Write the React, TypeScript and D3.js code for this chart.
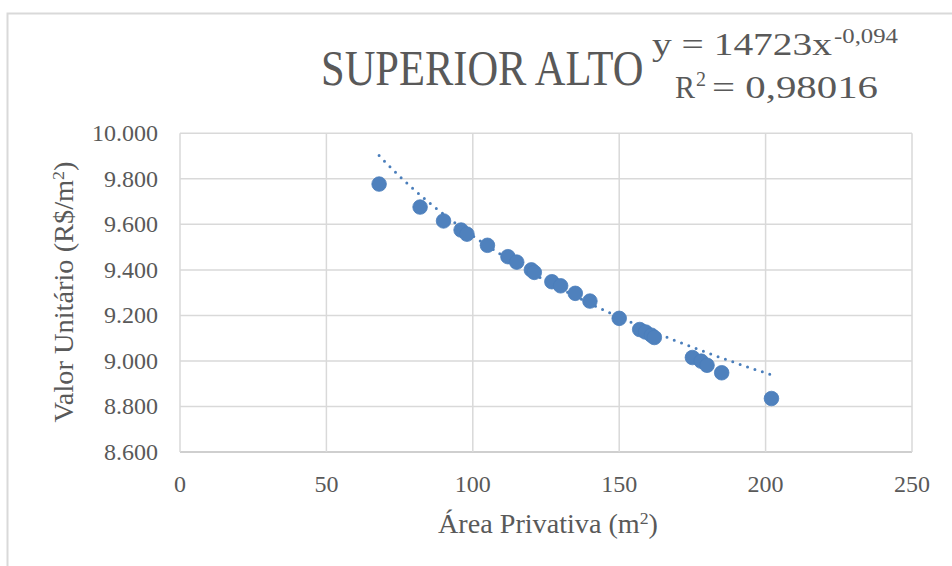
import { useEffect, useRef } from 'react';
import * as d3 from 'd3';

// Área privativa (m²) e valor unitário (R$/m²) das amostras
const areas = [68, 82, 90, 96, 98, 105, 112, 115, 120, 121, 127, 130, 135, 140, 150, 157, 159, 161, 162, 175, 178, 180, 185, 202];
const valores = [9777, 9676, 9615, 9575, 9557, 9508, 9458, 9434, 9400, 9389, 9348, 9330, 9297, 9263, 9187, 9138, 9127, 9113, 9103, 9015, 8999, 8981, 8948, 8835];

const xTicks = [0, 50, 100, 150, 200, 250];
const yTicks = [8600, 8800, 9000, 9200, 9400, 9600, 9800, 10000];

// Linha de tendência (potência) exibida no gráfico
const trendCoef = 14723;
const trendExp = -0.094;

const FONT = '"Liberation Serif", "DejaVu Serif", serif';
const TEXT = '#595959';

export default function App() {
  const svgRef = useRef<SVGSVGElement>(null);

  useEffect(() => {
    document.body.style.margin = '0';
    const W = 952, H = 566;
    const svg = d3.select(svgRef.current);
    svg.selectAll('*').remove();

    // chart frame
    svg.append('path')
      .attr('d', `M7.5,${H} L7.5,13.5 L${W},13.5`)
      .attr('fill', 'none')
      .attr('stroke', '#d9d9d9')
      .attr('stroke-width', 2);

    const x = d3.scaleLinear().domain([0, 250]).range([180, 912]);
    const y = d3.scaleLinear().domain([8600, 10000]).range([452, 133.3]);

    // gridlines
    svg.append('g').selectAll('line')
      .data(yTicks)
      .join('line')
      .attr('x1', x(0)).attr('x2', x(250))
      .attr('y1', d => y(d)).attr('y2', d => y(d))
      .attr('stroke', d => d === 8600 ? '#bfbfbf' : '#d9d9d9')
      .attr('stroke-width', 1.5);

    svg.append('g').selectAll('line')
      .data(xTicks)
      .join('line')
      .attr('x1', d => x(d)).attr('x2', d => x(d))
      .attr('y1', y(10000)).attr('y2', y(8600))
      .attr('stroke', '#d9d9d9')
      .attr('stroke-width', 1.5);

    // tick labels
    const fmt = (v: number) => d3.format(',.3f')(v / 1000).replace(',', '.');
    svg.append('g').selectAll('text')
      .data(yTicks)
      .join('text')
      .attr('x', 158)
      .attr('y', d => y(d) + 8)
      .attr('text-anchor', 'end')
      .style('font-family', FONT)
      .style('font-size', '24px')
      .style('fill', TEXT)
      .text(d => fmt(d));

    svg.append('g').selectAll('text')
      .data(xTicks)
      .join('text')
      .attr('x', d => x(d))
      .attr('y', 492)
      .attr('text-anchor', 'middle')
      .style('font-family', FONT)
      .style('font-size', '24px')
      .style('fill', TEXT)
      .text(d => d);

    // axis titles
    const xt = svg.append('text')
      .attr('x', 548)
      .attr('y', 533)
      .attr('text-anchor', 'middle')
      .attr('textLength', 220)
      .attr('lengthAdjust', 'spacingAndGlyphs')
      .style('font-family', FONT)
      .style('font-size', '27px')
      .style('fill', TEXT);
    xt.append('tspan').text('Área Privativa (m');
    xt.append('tspan').attr('dy', -9).style('font-size', '17px').text('2');
    xt.append('tspan').attr('dy', 9).text(')');

    const yt = svg.append('text')
      .attr('transform', 'translate(73,292) rotate(-90)')
      .attr('text-anchor', 'middle')
      .attr('textLength', 261)
      .attr('lengthAdjust', 'spacingAndGlyphs')
      .style('font-family', FONT)
      .style('font-size', '27px')
      .style('fill', TEXT);
    yt.append('tspan').text('Valor Unitário (R$/m');
    yt.append('tspan').attr('dy', -9).style('font-size', '17px').text('2');
    yt.append('tspan').attr('dy', 9).text(')');

    // title (narrow serif, stretched vertically like the original)
    svg.append('text')
      .attr('transform', 'translate(321,85) scale(1,1.17)')
      .style('font-family', FONT)
      .style('font-size', '42.5px')
      .style('fill', TEXT)
      .text('SUPERIOR ALTO');

    // trendline label
    const label = (tx: number, ty: number, size: number, len: number, s: string) =>
      svg.append('text')
        .attr('x', tx)
        .attr('y', ty)
        .attr('textLength', len)
        .attr('lengthAdjust', 'spacingAndGlyphs')
        .style('font-family', FONT)
        .style('font-size', `${size}px`)
        .style('fill', TEXT)
        .text(s);
    label(652, 55, 32, 180, 'y = 14723x');
    label(834, 43, 21, 64, '-0,094');
    label(675, 98, 32, 20, 'R');
    label(696, 86, 21, 10, '2');
    label(712, 98, 32, 166, '= 0,98016');

    // trendline (power fit from the displayed equation)
    const [xMin, xMax] = d3.extent(areas) as [number, number];
    const trendX = d3.range(xMin, xMax, 0.5).concat([xMax]);
    const line = d3.line<number>()
      .x(d => x(d))
      .y(d => y(trendCoef * Math.pow(d, trendExp)));
    svg.append('path')
      .datum(trendX)
      .attr('d', line)
      .attr('fill', 'none')
      .attr('stroke', '#4a7ebb')
      .attr('stroke-width', 3)
      .attr('stroke-linecap', 'round')
      .attr('stroke-dasharray', '0 7.8');

    // points
    svg.append('g').selectAll('circle')
      .data(areas.map((a, i) => [a, valores[i]]))
      .join('circle')
      .attr('cx', d => x(d[0]))
      .attr('cy', d => y(d[1]))
      .attr('r', 7.3)
      .attr('fill', '#4f81bd')
      .attr('stroke', '#4a7ebb')
      .attr('stroke-width', 0.8);
  }, []);

  return <svg ref={svgRef} width={952} height={566} style={{ display: 'block' }} />;
}
